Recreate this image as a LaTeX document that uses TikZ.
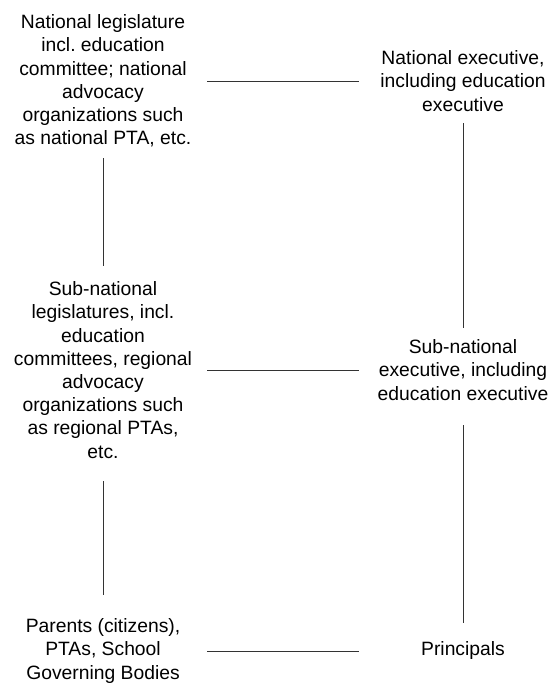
\documentclass[tikz,border=0pt]{standalone}
\usepackage{fontspec}
\setmainfont{Liberation Sans}
\begin{document}
\frenchspacing
\begin{tikzpicture}[x=1bp,y=-1bp,
  lbl/.style={align=center,inner sep=0pt,font=\fontsize{19.3bp}{23.2bp}\selectfont\frenchspacing},
  link/.style={draw=black!80,line width=0.9bp}]
\useasboundingbox (0,0) rectangle (551,686);
\node[lbl] (tl) at (103,81) {National legislature\\incl. education\\committee; national\\advocacy\\organizations such\\as national PTA, etc.};
\node[lbl] (tr) at (463,81) {National executive,\\including education\\executive};
\node[lbl] (ml) at (103,370) {Sub-national\\legislatures, incl.\\education\\committees, regional\\advocacy\\organizations such\\as regional PTAs,\\etc.};
\node[lbl] (mr) at (463,370) {Sub-national\\executive, including\\education executive};
\node[lbl] (bl) at (103,651) {Parents (citizens),\\PTAs, School\\Governing Bodies};
\node[lbl] (br) at (463,651) {Principals};
\draw[link,shorten <=104bp,shorten >=104bp] (tl.center) -- (tr.center);
\draw[link,shorten <=104bp,shorten >=104bp] (ml.center) -- (mr.center);
\draw[link,shorten <=104bp,shorten >=104bp] (bl.center) -- (br.center);
\draw[link,shorten <=77bp,shorten >=104bp] (tl.center) -- (ml.center);
\draw[link,shorten <=111bp,shorten >=56bp] (ml.center) -- (bl.center);
\draw[link,shorten <=42bp,shorten >=42bp] (tr.center) -- (mr.center);
\draw[link,shorten <=55bp,shorten >=28bp] (mr.center) -- (br.center);
\end{tikzpicture}
\end{document}
